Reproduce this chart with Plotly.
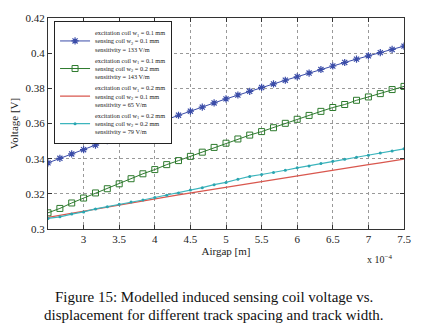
import plotly.graph_objects as go

# Airgap in units of 1e-4 m
airgap = [2.5, 2.667, 2.833, 3.0, 3.167, 3.333, 3.5, 3.667, 3.833, 4.0,
          4.167, 4.333, 4.5, 4.667, 4.833, 5.0, 5.167, 5.333, 5.5, 5.667,
          5.833, 6.0, 6.167, 6.333, 6.5, 6.667, 6.833, 7.0, 7.167, 7.333, 7.5]

v_w1_01_w2_01 = [0.3376, 0.3402, 0.3427, 0.3451, 0.3477, 0.3503, 0.3528, 0.3552, 0.3576, 0.3600,
                 0.3624, 0.3647, 0.3670, 0.3693, 0.3717, 0.3740, 0.3762, 0.3783, 0.3805, 0.3825,
                 0.3846, 0.3866, 0.3887, 0.3907, 0.3927, 0.3947, 0.3966, 0.3985, 0.4003, 0.4021, 0.4040]
v_w1_01_w2_02 = [0.3092, 0.3117, 0.3148, 0.3176, 0.3205, 0.3229, 0.3257, 0.3286, 0.3314, 0.3338,
                 0.3366, 0.3389, 0.3413, 0.3437, 0.3464, 0.3488, 0.3512, 0.3534, 0.3554, 0.3576,
                 0.3601, 0.3624, 0.3646, 0.3669, 0.3691, 0.3708, 0.3732, 0.3751, 0.3770, 0.3793, 0.3811]
v_w1_02_w2_01 = [0.3066, 0.3078, 0.3090, 0.3102, 0.3114, 0.3126, 0.3138, 0.3150, 0.3161, 0.3172,
                 0.3183, 0.3194, 0.3205, 0.3216, 0.3227, 0.3238, 0.3249, 0.3259, 0.3270, 0.3281,
                 0.3291, 0.3302, 0.3312, 0.3323, 0.3334, 0.3344, 0.3355, 0.3366, 0.3376, 0.3387, 0.3398]
v_w1_02_w2_02 = [0.3060, 0.3069, 0.3085, 0.3097, 0.3114, 0.3126, 0.3141, 0.3154, 0.3165, 0.3179,
                 0.3192, 0.3205, 0.3222, 0.3235, 0.3252, 0.3265, 0.3283, 0.3299, 0.3310, 0.3321,
                 0.3334, 0.3348, 0.3359, 0.3372, 0.3385, 0.3396, 0.3408, 0.3420, 0.3432, 0.3443, 0.3456]

series_names = [
    "excitation coil w<sub>1</sub> = 0.1 mm<br>sensing coil w<sub>2</sub> = 0.1 mm<br>sensitivity = 133 V/m",
    "excitation coil w<sub>1</sub> = 0.1 mm<br>sensing coil w<sub>2</sub> = 0.2 mm<br>sensitivity = 143 V/m",
    "excitation coil w<sub>1</sub> = 0.2 mm<br>sensing coil w<sub>2</sub> = 0.1 mm<br>sensitivity = 65 V/m",
    "excitation coil w<sub>1</sub> = 0.2 mm<br>sensing coil w<sub>2</sub> = 0.2 mm<br>sensitivity = 79 V/m",
]

x_tickvals = [2.5, 3, 3.5, 4, 4.5, 5, 5.5, 6, 6.5, 7, 7.5]
x_ticktext = ["", "3", "3.5", "4", "4.5", "5", "5.5", "6", "6.5", "7", "7.5"]
y_tickvals = [0.30, 0.32, 0.34, 0.36, 0.38, 0.40, 0.42]
y_ticktext = ["0.3", "0.32", "0.34", "0.36", "0.38", "0.4", "0.42"]

SERIF = "Liberation Serif, Times New Roman, serif"

fig = go.Figure()
fig.add_trace(go.Scatter(x=airgap, y=v_w1_01_w2_01, name=series_names[0], mode="lines+markers",
                         line=dict(color="#3a4ca8", width=1),
                         marker=dict(symbol="asterisk-open", size=6, line=dict(color="#3a4ca8", width=1.2))))
fig.add_trace(go.Scatter(x=airgap, y=v_w1_01_w2_02, name=series_names[1], mode="lines+markers",
                         line=dict(color="#2d7a2d", width=1),
                         marker=dict(symbol="square-open", size=6, line=dict(color="#3f8a3f", width=1))))
fig.add_trace(go.Scatter(x=airgap, y=v_w1_02_w2_01, name=series_names[2], mode="lines",
                         line=dict(color="#d9574e", width=1.3)))
fig.add_trace(go.Scatter(x=airgap, y=v_w1_02_w2_02, name=series_names[3], mode="lines+markers",
                         line=dict(color="#3cb5bd", width=1.2),
                         marker=dict(symbol="circle", size=3, color="#2aa5b0")))

axis_common = dict(showline=True, linecolor="#333", linewidth=1, mirror="ticks",
                   ticks="inside", ticklen=4, tickcolor="#333",
                   showgrid=True, gridcolor="#999", griddash="dot", gridwidth=1,
                   zeroline=False, tickfont=dict(family=SERIF, size=11, color="#222"))

fig.update_xaxes(range=[2.5, 7.5], tickvals=x_tickvals, ticktext=x_ticktext,
                 title=dict(text="Airgap [m]", font=dict(family=SERIF, size=11, color="#222"), standoff=2),
                 **axis_common)
fig.update_yaxes(range=[0.30, 0.42], tickvals=y_tickvals, ticktext=y_ticktext,
                 title=dict(text="Voltage [V]", font=dict(family=SERIF, size=11, color="#222"), standoff=4),
                 **axis_common)

fig.update_layout(
    width=426, height=331,
    margin=dict(l=48, r=22, t=16, b=102),
    paper_bgcolor="white", plot_bgcolor="white",
    showlegend=True,
    legend=dict(x=0.017, y=0.985, xanchor="left", yanchor="top",
                bgcolor="white", bordercolor="#222", borderwidth=1,
                font=dict(family=SERIF, size=6.3, color="#222"),
                itemwidth=30, tracegroupgap=0),
    annotations=[
        dict(text="x 10<sup>−4</sup>", xref="paper", yref="paper", x=0.93, y=-0.105,
             xanchor="center", yanchor="top", showarrow=False,
             font=dict(family=SERIF, size=10, color="#222")),
        dict(text="Figure 15: Modelled induced sensing coil voltage vs.", xref="paper", yref="paper",
             x=0.465, y=-0.275, xanchor="center", yanchor="top", showarrow=False,
             font=dict(family=SERIF, size=15, color="#111")),
        dict(text="displacement for different track spacing and track width.", xref="paper", yref="paper",
             x=0.465, y=-0.36, xanchor="center", yanchor="top", showarrow=False,
             font=dict(family=SERIF, size=15, color="#111")),
    ],
)

fig.write_html("out.html", config={"displayModeBar": False},
               post_script="document.body.style.margin='0px';")
